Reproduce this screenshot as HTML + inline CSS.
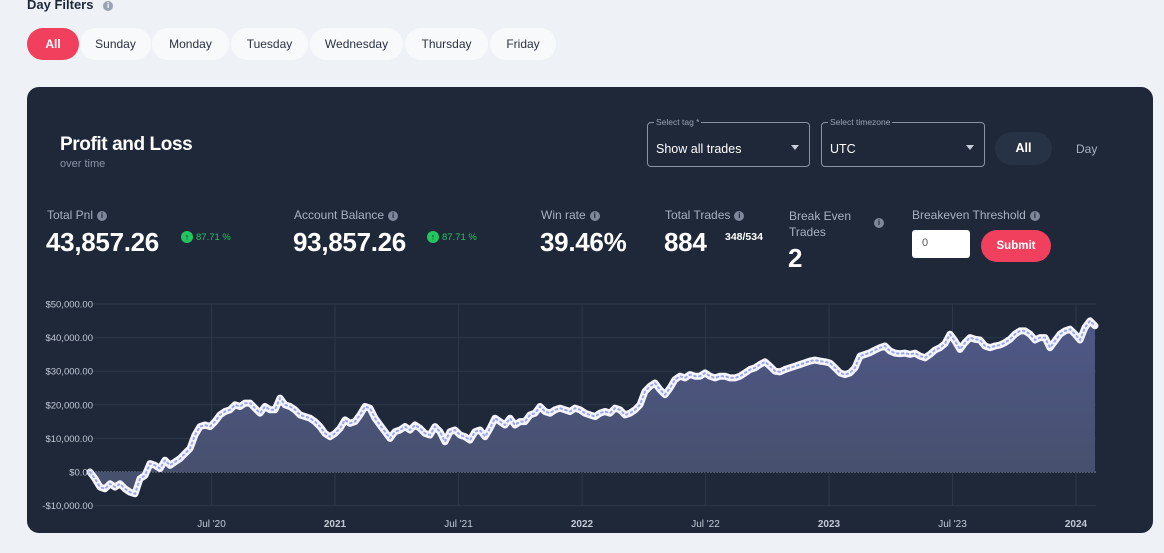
<!DOCTYPE html>
<html><head><meta charset="utf-8">
<style>
*{box-sizing:border-box;margin:0;padding:0}
body{width:1164px;height:553px;background:#eef1f5;font-family:"Liberation Sans",sans-serif;position:relative;overflow:hidden}
.abs{position:absolute}
.pill{position:absolute;top:28px;height:32px;border-radius:16px;background:#f8f9fb;color:#2b3240;font-size:12px;display:flex;align-items:center;justify-content:center}
.card{position:absolute;left:27px;top:87px;width:1126px;height:446px;background:#1e2839;border-radius:12px}
.lbl{position:absolute;font-size:12px;color:#a9b1c1}
.val{position:absolute;font-size:26px;font-weight:bold;color:#fff;letter-spacing:-0.3px}
.info{display:inline-block;width:10px;height:10px;border-radius:50%;background:#7d8799;color:#1e2839;font-size:8px;font-weight:bold;text-align:center;line-height:10px;vertical-align:middle;margin-left:4px}
.up{position:absolute;width:12px;height:12px;border-radius:50%;background:#22c55e;color:#1e2839;font-size:9px;font-weight:bold;text-align:center;line-height:12px}
.pct{position:absolute;font-size:9.5px;color:#22c55e}
.sel{position:absolute;top:122px;height:45px;border:1px solid #8a93a5;border-radius:4px}
.sel .t{position:absolute;left:8px;top:19px;font-size:12.5px;color:#fff}
.sel .l{position:absolute;left:6px;top:-6px;font-size:8.5px;color:#9aa3b3;background:#1e2839;padding:0 2px}
.sel .c{position:absolute;right:10px;top:22px;width:0;height:0;border-left:4px solid transparent;border-right:4px solid transparent;border-top:5px solid #c9cfda}
</style></head><body>
<div class="abs" style="left:27px;top:-3px;font-size:13px;font-weight:bold;color:#1e2839">Day Filters <span class="info" style="background:#9aa3b1;color:#fff;margin-left:6px">i</span></div>
<div class="pill" style="left:27px;width:52px;background:#f0405e;color:#fff;font-weight:bold">All</div>
<div class="pill" style="left:80px;width:71px">Sunday</div>
<div class="pill" style="left:152px;width:77px">Monday</div>
<div class="pill" style="left:231px;width:77px">Tuesday</div>
<div class="pill" style="left:310px;width:93px">Wednesday</div>
<div class="pill" style="left:405px;width:83px">Thursday</div>
<div class="pill" style="left:490px;width:66px">Friday</div>

<div class="card"></div>
<div class="abs" style="left:60px;top:134px;font-size:19px;font-weight:bold;color:#fff;letter-spacing:-0.4px">Profit and Loss</div>
<div class="abs" style="left:60px;top:158px;font-size:11px;color:#8a94a6">over time</div>

<div class="sel" style="left:647px;width:163px"><span class="l">Select tag *</span><span class="t">Show all trades</span><span class="c"></span></div>
<div class="sel" style="left:821px;width:164px"><span class="l">Select timezone</span><span class="t">UTC</span><span class="c"></span></div>
<div class="abs" style="left:995px;top:132px;width:57px;height:33px;border-radius:17px;background:#283245;color:#fff;font-weight:bold;font-size:12.5px;text-align:center;line-height:33px">All</div>
<div class="abs" style="left:1076px;top:142px;font-size:12px;color:#a9b1c1">Day</div>

<div class="lbl" style="left:47px;top:208px">Total Pnl<span class="info">i</span></div>
<div class="val" style="left:46px;top:227px">43,857.26</div>
<div class="up" style="left:181px;top:231px">↑</div>
<div class="pct" style="left:196px;top:232px">87.71 %</div>

<div class="lbl" style="left:294px;top:208px">Account Balance<span class="info">i</span></div>
<div class="val" style="left:293px;top:227px">93,857.26</div>
<div class="up" style="left:427px;top:231px">↑</div>
<div class="pct" style="left:442px;top:232px">87.71 %</div>

<div class="lbl" style="left:541px;top:208px">Win rate<span class="info">i</span></div>
<div class="val" style="left:540px;top:227px">39.46%</div>

<div class="lbl" style="left:665px;top:208px">Total Trades<span class="info">i</span></div>
<div class="val" style="left:664px;top:227px">884</div>
<div class="abs" style="left:725px;top:231px;font-size:10.5px;font-weight:bold;color:#fff">348/534</div>

<div class="lbl" style="left:789px;top:208px;line-height:16px">Break Even<br>Trades</div>
<span class="info abs" style="left:870px;top:218px">i</span>
<div class="val" style="left:788px;top:243px">2</div>

<div class="lbl" style="left:912px;top:208px">Breakeven Threshold<span class="info">i</span></div>
<div class="abs" style="left:912px;top:230px;width:58px;height:28px;background:#fff;border-radius:3px;font-size:11px;color:#555;padding:7px 0 0 10px">0</div>
<div class="abs" style="left:981px;top:230px;width:70px;height:32px;background:#f0405e;border-radius:16px;color:#fff;font-size:11.5px;font-weight:bold;text-align:center;line-height:32px">Submit</div>

<svg class="abs" style="left:0;top:0" width="1164" height="553">
<defs><linearGradient id="g" x1="0" y1="0" x2="0" y2="1"><stop offset="0" stop-color="#4f5787"/><stop offset="1" stop-color="#464f6a"/></linearGradient></defs>
<g id="grid"></g><g id="area"></g><g id="axes"></g>
</svg>
<script>
const yTicks=[50000,40000,30000,20000,10000,0,-10000];
const yTickLabels=["$50,000.00","$40,000.00","$30,000.00","$20,000.00","$10,000.00","$0.00","-$10,000.00"];
const xTicks=[2020.5,2021,2021.5,2022,2022.5,2023,2023.5,2024];
const xTickLabels=["Jul '20","2021","Jul '21","2022","Jul '22","2023","Jul '23","2024"];
const startYear=2020.008;
const stepYears=5/247;
const pnlK=[0,-2,-4.5,-5,-3.5,-4.5,-3.5,-5,-6,-6.5,-2,-1,2.5,2,1,3.5,2,3,4,5.5,7,11,13.5,14,13.5,15,17,18,18.5,20,19.5,20.5,20.5,19,17.5,19.5,18.5,18.5,22,20,19.5,18.5,17,16.5,16,15,13.5,11.5,10.5,11.5,13,15.5,14.5,15,17,19.5,19,16,14,12,10,12,12.5,13.5,12.5,14,13,11.5,11,13.5,12,9,12,12.5,11,10.5,9.5,12,12.5,10.5,13,16,15,14,16,14,15,15,17,17.5,19.5,18,17.5,18.5,
19,18.5,18,19,18.5,17.5,17,16.5,17.5,18,17.5,19,18.5,17,17.5,18.5,20,24,25.5,26.5,24.5,23,25,27.5,28.5,28,29,28.5,28.5,29.5,28.5,28,28.5,28.5,28,28,28.5,29.5,30.5,31,32,32.8,31.5,30,29.8,30.5,31,31.5,32,32.5,33,33.3,33,32.8,32.4,31,29.5,29,29.5,31,34.5,35,35.5,36.3,37,37.5,36,35.4,35.2,35.4,35,35.4,34.5,34,35,36.3,37,38.2,41,39,36.5,38.5,40,39.5,39.3,37.5,37,37.5,37.8,38.5,39.5,41,42,42,41,39.3,40,40,37,39,41,42,42.5,41,39.3,43,45,43.5];
const X=t=>88+(t-2020)*247;
const Y=v=>472-(v/10000)*33.6;
const NS="http://www.w3.org/2000/svg";
function mk(p,tag,a){const e=document.createElementNS(NS,tag);for(const k in a)e.setAttribute(k,a[k]);p.appendChild(e);return e;}
const grid=document.getElementById('grid'),area=document.getElementById('area'),axes=document.getElementById('axes');
yTicks.forEach((v,i)=>{
  const l=mk(grid,'line',{x1:92,x2:1096,y1:Y(v),y2:Y(v),stroke:v===0?'#7f8899':'#2c3749','stroke-width':1,'stroke-dasharray':v===0?'2 1':''});
  
  
  const t=mk(axes,'text',{x:93,y:Y(v)+3.5,'text-anchor':'end','font-size':9.5,fill:'#c3cad6','font-family':'Liberation Sans'});
  t.textContent=yTickLabels[i];
  
  
});
xTicks.forEach((v,i)=>{
  const l=mk(grid,'line',{x1:X(v),x2:X(v),y1:Y(50000),y2:Y(-10000),stroke:'#2c3749','stroke-width':1});
  
  
  const yr=xTickLabels[i].indexOf("'")<0;
  const t=mk(axes,'text',{x:X(v),y:527,'text-anchor':'middle','font-size':10,'font-weight':yr?'bold':'normal',fill:'#c3cad6','font-family':'Liberation Sans'});
  t.textContent=xTickLabels[i];
  
  
});
const pts=pnlK.map((v,i)=>[X(startYear+i*stepYears),Y(v*1000)]);
const d=pts.map((p,i)=>(i?'L':'M')+p[0].toFixed(1)+','+p[1].toFixed(1)).join('');
const a=mk(area,'path',{d:d+'L'+pts[pts.length-1][0].toFixed(1)+','+Y(0)+'L'+pts[0][0].toFixed(1)+','+Y(0)+'Z',fill:'url(#g)'});


const ln=mk(area,'path',{d:d,fill:'none',stroke:'#f4f5ff','stroke-width':7,'stroke-linejoin':'round','stroke-linecap':'round'});


const dots=mk(area,'path',{d:d,fill:'none',stroke:'#9aa6f0','stroke-width':2,'stroke-dasharray':'1.5 3.5','stroke-linecap':'round'});


</script>
</body></html>
